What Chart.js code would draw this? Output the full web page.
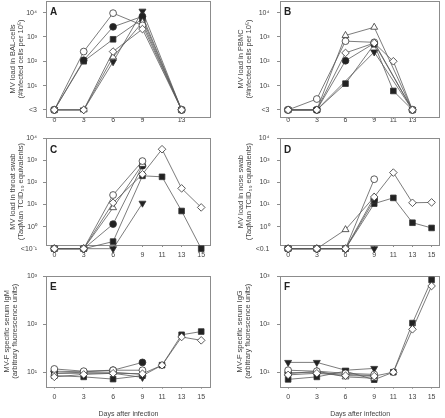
<!DOCTYPE html>
<html>
<head>
<meta charset="utf-8">
<script src="https://cdn.jsdelivr.net/npm/chart.js"></script>
<style>
  body { margin: 0; background: #fff; width: 445px; height: 418px; overflow: hidden; position: relative; }
  canvas { position: absolute; }
</style>
</head>
<body>
<canvas id="chartA" width="222" height="150" style="left:0;top:-15px"></canvas>
<canvas id="chartB" width="223" height="150" style="left:222px;top:-15px"></canvas>
<canvas id="chartC" width="222" height="140" style="left:0;top:120px"></canvas>
<canvas id="chartD" width="223" height="140" style="left:222px;top:120px"></canvas>
<canvas id="chartE" width="222" height="158" style="left:0;top:260px"></canvas>
<canvas id="chartF" width="223" height="158" style="left:222px;top:260px"></canvas>

<script>
// days sampled in each panel
const daysA = [0, 3, 6, 9, 13];
const daysB = [0, 3, 6, 9, 11, 13];
const daysLate = [0, 3, 6, 9, 11, 13, 15];

// y ticks
const virusTicks = [1, 10, 100, 1000, 10000];
const virusLabels = ['<3', '10¹', '10²', '10³', '10⁴'];
const swabTicks = [0.1, 1, 10, 100, 1000, 10000];
const throatLabels = ['<10⁻¹', '10⁰', '10¹', '10²', '10³', '10⁴'];
const noseLabels = ['<0.1', '10⁰', '10¹', '10²', '10³', '10⁴'];
const serumTicks = [10, 100, 1000];
const serumLabels = ['10¹', '10²', '10³'];

// A - BAL cells
const diamondA      = [1, 1, 250, 2100, 1];
const openCircleA   = [1, 250, 9500, 3000, 1];
const openTriA      = [1, 1, 150, 4000, 1];
const filledCircleA = [1, 110, 2600, 7000, 1];
const squareA       = [1, 100, 800, 5500, 1];
const triDownA      = [1, 1, 95, 11500, 1];

// B - PBMC
const diamondB      = [1, 1, 220, 560, 100, 1];
const openCircleB   = [1, 2.8, 670, 600, null, 1];
const openTriB      = [1, 1, 1150, 2500, null, 1];
const filledCircleB = [1, 1, 105, 550, null, 1];
const squareB       = [1, 1, 12, 500, 6, 1];
const triDownB      = [1, 1, null, 240, null, 1];

// C - throat swab
const diamondC      = [0.1, 0.1, 12, 235, 3200, 54, 7.4];
const openCircleC   = [0.1, 0.1, 27, 930, null, null, null];
const openTriC      = [0.1, 0.1, 7.2, 660, null, null, null];
const filledCircleC = [0.1, 0.1, 1.3, 570, null, null, null];
const squareC       = [0.1, 0.1, 0.21, 200, 180, 5.1, 0.1];
const triDownC      = [0.1, 0.1, 0.1, 11.5, null, null, null];

// D - nose swab
const diamondD      = [0.1, 0.1, 0.1, 22, 280, 12, 12.5];
const openCircleD   = [0.1, 0.1, 0.1, 140, null, null, null];
const openTriD      = [0.1, 0.1, 0.73, 22, null, null, null];
const filledCircleD = [0.1, 0.1, 0.1, 16, null, null, null];
const squareD       = [0.1, 0.1, 0.1, 11, 20, 1.5, 0.87];
const triDownD      = [0.1, 0.1, 0.1, 0.1, null, null, null];

// E - IgM
const diamondE      = [8, 9, 9.5, 9.3, 14, 54, 46];
const openCircleE   = [11.7, 10.5, 11, 11, null, null, null];
const openTriE      = [9.5, 10, 10, 9, null, null, null];
const filledCircleE = [10.5, 10.2, 11, 16, null, null, null];
const squareE       = [8.5, 8, 7.2, 8.5, 14, 60, 70];
const triDownE      = [9.5, 9.5, 9.5, 7.8, null, null, null];

// F - IgG
const diamondF      = [8.8, 9.5, 8.5, 8.3, 10, 78, 620];
const openCircleF   = [11, 10.5, 9.5, 9, null, null, null];
const openTriF      = [9.3, 10.5, 8, 7.5, null, null, null];
const filledCircleF = [9.8, 9.8, 9, 8.5, null, null, null];
const squareF       = [7.1, 8, 10.5, 7, 10, 105, 830];
const triDownF      = [16, 16, 11, 12, null, null, null];

Chart.defaults.font.family = "'Liberation Sans', Arial, sans-serif";

// marker looks, in drawing order (first one ends up on top)
const markers = [
  { pointStyle: 'rectRot',  pointRadius: 3.8, fill: '#fff', rot: 0 },
  { pointStyle: 'circle',   pointRadius: 3.4, fill: '#fff', rot: 0 },
  { pointStyle: 'triangle', pointRadius: 4,   fill: '#fff', rot: 0 },
  { pointStyle: 'circle',   pointRadius: 3.4, fill: '#222', rot: 0 },
  { pointStyle: 'rect',     pointRadius: 4,   fill: '#222', rot: 0 },
  { pointStyle: 'triangle', pointRadius: 4,   fill: '#222', rot: 180 }
];

const panelDecor = {
  id: 'panelDecor',
  beforeDatasetsDraw(chart, args, opts) {
    const a = chart.chartArea, ctx = chart.ctx;
    ctx.save();
    ctx.strokeStyle = '#8c8c8c';
    ctx.lineWidth = 1;
    ctx.strokeRect(Math.round(a.left) + 0.5, Math.round(a.top) + 0.5,
                   Math.round(a.right - a.left) - 1, Math.round(a.bottom - a.top));
    ctx.restore();
  },
  afterDraw(chart, args, opts) {
    const a = chart.chartArea, ctx = chart.ctx;
    ctx.save();
    ctx.fillStyle = '#222';
    ctx.font = "bold 10px 'Liberation Sans', Arial, sans-serif";
    ctx.textBaseline = 'alphabetic';
    ctx.fillText(opts.letter, a.left + 4, a.top + 14.2);
    ctx.restore();
  }
};

function drawPanel(id, o) {
  const datasets = o.series.map((vals, k) => {
    const m = markers[k];
    return {
      data: o.days.map((d, i) => ({ x: d, y: vals[i] })),
      borderColor: '#5a5a5a',
      borderWidth: 0.8,
      pointStyle: m.pointStyle,
      pointRadius: m.pointRadius,
      pointRotation: m.rot,
      pointBackgroundColor: m.fill,
      pointBorderColor: '#333',
      pointBorderWidth: 0.8,
      tension: 0,
      spanGaps: true,
      clip: false
    };
  });

  new Chart(document.getElementById(id), {
    type: 'line',
    data: { datasets: datasets },
    plugins: [panelDecor],
    options: {
      responsive: false,
      animation: false,
      devicePixelRatio: 1,
      layout: { padding: { top: o.padTop, right: o.padRight, left: 0, bottom: 0 } },
      plugins: {
        legend: { display: false },
        tooltip: { enabled: false },
        panelDecor: { letter: o.letter }
      },
      scales: {
        x: {
          type: 'linear',
          min: -0.85,
          max: o.xMax,
          afterBuildTicks: s => { s.ticks = o.days.map(v => ({ value: v })); },
          afterFit: s => { s.height = o.xHeight; },
          ticks: { autoSkip: false, maxRotation: 0, padding: o.xPad, color: '#444',
                   font: { size: 7, lineHeight: 1 }, callback: v => String(v) },
          grid: { drawOnChartArea: false, tickLength: 2, tickColor: '#8c8c8c' },
          border: { display: false },
          title: { display: !!o.xTitle, text: o.xTitle || '', color: '#444',
                   font: { size: 7, lineHeight: 1.15 }, padding: { top: 0, bottom: 0 } }
        },
        y: {
          type: 'logarithmic',
          min: o.yMin,
          max: o.yMax,
          afterBuildTicks: s => { s.ticks = o.yTicks.map(v => ({ value: v })); },
          afterFit: s => { s.width = o.yWidth; },
          ticks: { autoSkip: false, padding: o.yPad, color: '#444',
                   font: { size: 7 }, callback: (v, i) => o.yLabels[i] },
          grid: { drawOnChartArea: false, tickLength: 3,
                  tickColor: c => (c.tick && c.tick.value < o.yMin) ? 'rgba(0,0,0,0)' : '#8c8c8c' },
          border: { display: false },
          title: { display: true, text: o.yTitle, color: '#444',
                   font: { size: 7.5, lineHeight: 1.07 }, padding: { top: o.titlePad, bottom: 0 } }
        }
      }
    }
  });
}

const leftCol = { yWidth: 46, padRight: 11, xMax: 16, yPad: 6 };
const rightCol = { yWidth: 58, padRight: 1, xMax: 15.9, yPad: 7.5 };
const row1 = { padTop: 16, xHeight: 18, xPad: -2, yMin: 0.51, yMax: 30000 };
const row2 = { padTop: 18.3, xHeight: 15, xPad: 5, yMin: 0.147, yMax: 10000 };
const row3 = { padTop: 16, xHeight: 31.3, xPad: 4.8, yMin: 5, yMax: 1000 };

drawPanel('chartA', Object.assign({}, leftCol, row1, {
  letter: 'A', days: daysA, yTicks: virusTicks, yLabels: virusLabels, titlePad: 8.5,
  yTitle: ['MV load in BAL-cells', '(#infected cells per 10⁵)'],
  series: [diamondA, openCircleA, openTriA, filledCircleA, squareA, triDownA]
}));
drawPanel('chartB', Object.assign({}, rightCol, row1, {
  letter: 'B', days: daysB, yTicks: virusTicks, yLabels: virusLabels, titlePad: 14.5,
  yTitle: ['MV load in PBMC', '(#infected cells per 10⁵)'],
  series: [diamondB, openCircleB, openTriB, filledCircleB, squareB, triDownB]
}));
drawPanel('chartC', Object.assign({}, leftCol, row2, {
  letter: 'C', days: daysLate, yTicks: swabTicks, yLabels: throatLabels, titlePad: 9.3,
  yTitle: ['MV load in throat swab', '(TaqMan TCID₅₀ equivalents)'],
  series: [diamondC, openCircleC, openTriC, filledCircleC, squareC, triDownC]
}));
drawPanel('chartD', Object.assign({}, rightCol, row2, {
  letter: 'D', days: daysLate, yTicks: swabTicks, yLabels: noseLabels, titlePad: 14.7,
  yTitle: ['MV load in nose swab', '(TaqMan TCID₅₀ equivalents)'],
  series: [diamondD, openCircleD, openTriD, filledCircleD, squareD, triDownD]
}));
drawPanel('chartE', Object.assign({}, leftCol, row3, {
  letter: 'E', days: daysLate, yTicks: serumTicks, yLabels: serumLabels, titlePad: 3,
  yTitle: ['MV-F specific serum IgM', '(arbitrary fluorescence units)'],
  xTitle: 'Days after infection',
  series: [diamondE, openCircleE, openTriE, filledCircleE, squareE, triDownE]
}));
drawPanel('chartF', Object.assign({}, rightCol, row3, {
  letter: 'F', days: daysLate, yTicks: serumTicks, yLabels: serumLabels, titlePad: 14,
  yTitle: ['MV-F specific serum IgG', '(arbitrary fluorescence units)'],
  xTitle: 'Days after infection',
  series: [diamondF, openCircleF, openTriF, filledCircleF, squareF, triDownF]
}));
</script>
</body>
</html>
